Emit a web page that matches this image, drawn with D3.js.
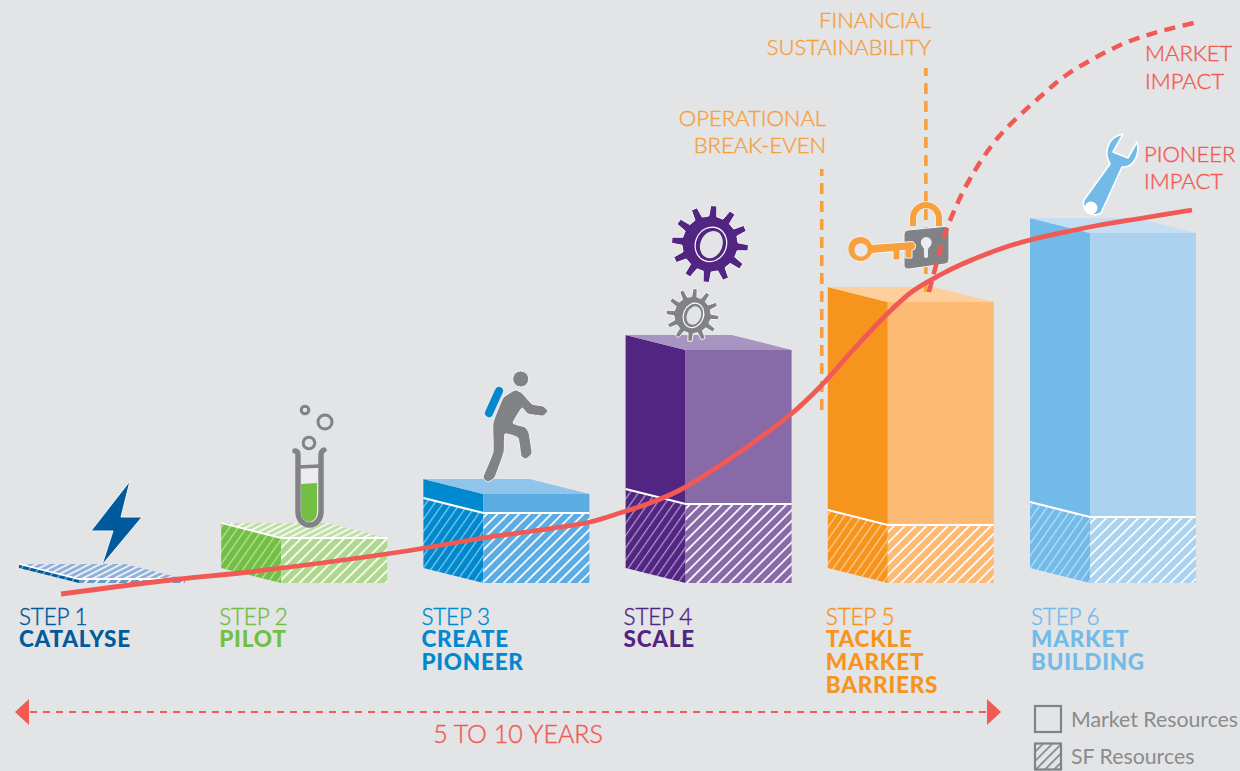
<!DOCTYPE html>
<html>
<head>
<meta charset="utf-8">
<script src="https://cdn.jsdelivr.net/npm/d3@7"></script>
<style>
  html, body { margin: 0; padding: 0; background: #e3e4e6; }
  svg { display: block; }
  text { font-family: Lato, "Open Sans", sans-serif; }
</style>
</head>
<body>
<svg id="chart" width="1240" height="771"></svg>
<script>
// Scaling up in six steps: resources per step, and impact over the steps.
const stepNames = [["CATALYSE"], ["PILOT"], ["CREATE", "PIONEER"], ["SCALE"], ["TACKLE", "MARKET", "BARRIERS"], ["MARKET", "BUILDING"]];
const sfResources = [4, 45, 70, 79, 58, 66];
const marketResources = [0, 0, 19, 154, 223, 284];

const leftFaceColors = ["#005a9c", "#72bf44", "#0089cf", "#522582", "#f7941e", "#72bbe8"];
const rightFaceColors = ["#6c97c9", "#aed88d", "#5aace2", "#886aa8", "#fdba74", "#abd3f0"];
const topFaceColors = ["#8fb0d8", "#bfdfa6", "#90c4ea", "#a794c1", "#fecf9c", "#c5dff2"];
const labelColors = ["#005a9c", "#72bf44", "#0089cf", "#522582", "#f7941e", "#72bbe8"];

const pioneerSteps = [0.208, 0.796, 1.093, 1.884, 2.295, 2.542, 2.824, 2.972, 3.121, 3.269, 3.432, 3.600, 3.813, 3.961, 4.125, 4.293, 4.421, 4.555, 4.654, 4.852, 5.0, 5.198, 5.346, 5.559, 5.801];
const pioneerImpact = [-11, 4, 10, 31, 45, 52, 61, 70, 80, 93, 113, 136, 168, 196, 233, 269, 292, 308, 318, 334, 343, 352, 358, 365, 373];
const marketSteps = [4.50, 4.52, 4.57, 4.62, 4.70, 4.84, 5.06, 5.18, 5.32, 5.47, 5.63, 5.81];
const marketImpact = [291, 306, 343, 370, 403, 445, 488, 508, 525, 540, 551, 560];

const milestoneSteps = [3.97, 4.485];
const milestoneFrom = [173, 291];
const milestoneTo = [414, 515];
const milestoneLabels = [["OPERATIONAL", "BREAK-EVEN"], ["FINANCIAL", "SUSTAINABILITY"]];
const legendLabels = ["Market Resources", "SF Resources"];

const RED = "#f15a54", ORANGE = "#f7a03c", GREY = "#808285", HALO = "#f4f4f4", PAPER = "#e3e4e6";
const svg = d3.select("#chart");
const defs = svg.append("defs");

const x = d3.scaleLinear().domain([0, 5]).range([19, 1030]);
const y = d3.scaleLinear().domain([0, 583]).range([583, 0]);

const leftWidth = 60, rightWidth = 106, depth = 15, topShift = 46;

// Diagonal stripe fills, one set for each step colour
function stripes(id, base, angle, gap, width, opacity, ink) {
  const p = defs.append("pattern").attr("id", id)
    .attr("patternUnits", "userSpaceOnUse")
    .attr("width", gap).attr("height", gap)
    .attr("patternTransform", `rotate(${angle})`);
  p.append("rect").attr("width", gap).attr("height", gap).attr("fill", base);
  p.append("rect").attr("width", width).attr("height", gap)
    .attr("fill", ink || "#fff").attr("opacity", opacity);
}
leftFaceColors.forEach((c, i) => {
  stripes(`left${i}`, c, 35, 7, 1.2, 0.55);
  stripes(`right${i}`, rightFaceColors[i], 45, 7.6, 1.8, 0.95);
  stripes(`top${i}`, topFaceColors[i], 63, 4.8, 1.7, 0.9);
});
stripes("legendHatch", PAPER, 45, 6.5, 1.6, 1, GREY);

const poly = pts => d3.line()(pts) + "Z";

// Blocks
const bars = svg.append("g").selectAll("g").data(sfResources).join("g");
bars.each(function (sf, i) {
  const g = d3.select(this);
  const x0 = x(i), x1 = x0 + leftWidth, x2 = x1 + rightWidth;
  const base = y(0), mid = y(sf), top = y(sf + marketResources[i]);
  const hasMarket = marketResources[i] > 0;

  g.append("path").attr("d", poly([[x0, mid - depth], [x1, mid], [x1, base], [x0, base - depth]]))
    .attr("fill", `url(#left${i})`);
  g.append("path").attr("d", poly([[x1, mid], [x2, mid], [x2, base], [x1, base]]))
    .attr("fill", `url(#right${i})`);

  if (hasMarket) {
    g.append("path").attr("d", poly([[x0, top - depth], [x1, top], [x1, mid], [x0, mid - depth]]))
      .attr("fill", leftFaceColors[i]);
    g.append("path").attr("d", poly([[x1, top], [x2, top], [x2, mid], [x1, mid]]))
      .attr("fill", rightFaceColors[i]);
  }
  g.append("path")
    .attr("d", poly([[x0, top - depth], [x0 + topShift + leftWidth, top - depth], [x2, top], [x1, top]]))
    .attr("fill", hasMarket ? topFaceColors[i] : `url(#top${i})`);

  g.append("path").attr("d", d3.line()([[x0, mid - depth], [x1, mid], [x2, mid]]))
    .attr("fill", "none").attr("stroke", "#fff").attr("stroke-width", hasMarket ? 2.2 : 1.8);
});

// Light captions get a hairline outline to carry their weight
const lightText = sel => sel.attr("font-weight", 300).attr("stroke-width", 0.4)
  .attr("stroke", function () { return d3.select(this).attr("fill") || d3.select(this.parentNode).attr("fill"); });

// Step captions
const nudge = i => (i === 5 ? 1 : i === 0 ? 0 : -2);
const caption = svg.append("g").selectAll("g").data(stepNames).join("g")
  .attr("transform", (d, i) => `translate(${x(i) + nudge(i)},0)`)
  .attr("fill", (d, i) => labelColors[i]);
caption.append("text").attr("y", 625).attr("font-size", 22.5).attr("letter-spacing", -0.2)
  .text((d, i) => `STEP ${i + 1}`).call(lightText);
caption.each(function (lines) {
  d3.select(this).selectAll("text.name").data(lines).join("text").attr("class", "name")
    .attr("y", (d, k) => 646.5 + k * 23).attr("font-size", 22.5).attr("font-weight", 900)
    .attr("letter-spacing", 0.75).text(d => d);
});

// Milestone guides
milestoneSteps.forEach((s, i) => {
  svg.append("line").attr("x1", x(s)).attr("x2", x(s))
    .attr("y1", y(milestoneFrom[i])).attr("y2", y(milestoneTo[i]))
    .attr("stroke", ORANGE).attr("stroke-width", 3.6).attr("stroke-dasharray", "11 7");
});
[[826, [126, 153]], [931, [28, 54.5]]].forEach(([right, rows], i) => {
  milestoneLabels[i].forEach((t, k) => svg.append("text")
    .attr("x", right).attr("y", rows[k]).attr("text-anchor", "end")
    .attr("font-size", 22).attr("fill", ORANGE).text(t).call(lightText));
});

// Icons
const icons = svg.append("g");

// Lightning bolt
icons.append("path").attr("d", "M130 481L91 531L113 531L102 565L142 517L121 517Z")
  .attr("fill", "#005a9c").attr("stroke", HALO).attr("stroke-width", 1);

// Test tube and bubbles
const tube = icons.append("g").attr("fill", "none").attr("stroke-linecap", "round");
tube.append("path").attr("d", "M297.5 467V512A11.5 13 0 0 0 320.5 512V467Z").attr("fill", "#ececee").attr("stroke", "none");
tube.append("path").attr("d", "M301 484L317 483V512A8 10 0 0 1 301 512Z").attr("fill", "#72bf44").attr("stroke", "none");
tube.append("path").attr("d", "M295 451Q298 451 298 455V512A11.5 13 0 0 0 321 512V455Q321 451 324 450")
  .attr("stroke", GREY).attr("stroke-width", 5.4);
tube.append("path").attr("d", "M298 467L321 466").attr("stroke", GREY).attr("stroke-width", 3.5);
[[309, 443, 5.8, 3], [325, 422, 7, 3], [305, 410, 3.8, 3]].forEach(([cx, cy, r, w]) =>
  tube.append("circle").attr("cx", cx).attr("cy", cy).attr("r", r).attr("stroke", GREY).attr("stroke-width", w));

// Walker with backpack
const walker = icons.append("g").attr("stroke-linejoin", "round");
const walkerOutline = [[515, 390], [522, 393], [532, 404], [543, 406], [548, 411], [543, 416], [528, 414], [522, 408],
  [513, 423], [525, 427], [529, 433], [532, 453], [526, 459], [521, 456], [518, 438], [505, 434], [504, 452], [495, 477],
  [488, 482], [483, 477], [493, 452], [493, 423], [503, 398]];
walker.append("path").attr("d", d3.line().curve(d3.curveCardinalClosed.tension(0.6))(walkerOutline))
  .attr("fill", GREY).attr("stroke", HALO).attr("stroke-width", 1);
walker.append("circle").attr("cx", 520.7).attr("cy", 379).attr("r", 8).attr("fill", GREY).attr("stroke", HALO).attr("stroke-width", 1);
walker.append("path").attr("d", "M499 391L489 413").attr("stroke", "#0089cf").attr("stroke-width", 8).attr("stroke-linecap", "round");

// Cogs: teeth are spaced evenly around the body
function cog(cx, cy, outer, body, teeth, fill, ringX, ringY, holeX, holeY) {
  const pts = [];
  const step = 2 * Math.PI / teeth;
  for (let k = 0; k < teeth; k++) {
    const a = k * step + 0.1;
    [[-0.27, body], [-0.15, outer], [0.15, outer], [0.27, body]].forEach(([f, r]) =>
      pts.push([cx + r * Math.cos(a + f * step), cy + r * Math.sin(a + f * step)]));
  }
  const g = icons.append("g");
  g.append("path").attr("d", d3.line().curve(d3.curveLinearClosed)(pts))
    .attr("fill", fill).attr("stroke", HALO).attr("stroke-width", 1).attr("stroke-linejoin", "round");
  g.append("ellipse").attr("cx", cx + 1).attr("cy", cy).attr("rx", ringX).attr("ry", ringY)
    .attr("transform", `rotate(22 ${cx} ${cy})`).attr("fill", "none").attr("stroke", "#fff").attr("stroke-width", 1.2);
  g.append("ellipse").attr("cx", cx + 1.5).attr("cy", cy).attr("rx", holeX).attr("ry", holeY)
    .attr("transform", `rotate(22 ${cx} ${cy})`).attr("fill", PAPER);
}
cog(710, 244, 38.5, 28, 12, "#522582", 15.5, 17.5, 11, 14);
cog(692.5, 315, 26.5, 18.5, 12, GREY, 10, 12.5, 7, 9.5);

// Padlock and key
const lock = icons.append("g");
lock.append("path").attr("d", "M913 226V218A13 13 0 0 1 939 218V226").attr("fill", "none")
  .attr("stroke", HALO).attr("stroke-width", 7.5);
lock.append("path").attr("d", "M913 226V218A13 13 0 0 1 939 218V226").attr("fill", "none")
  .attr("stroke", ORANGE).attr("stroke-width", 6);
lock.append("path").attr("d", "M908 230L944 226.5Q949 226 949 231V259Q949 263.5 945 264L909 269Q904 269.5 904 265V234Q904 230.5 908 230Z")
  .attr("fill", GREY).attr("stroke", HALO).attr("stroke-width", 1);
lock.append("path").attr("d", "M924 249L922.5 246.5A5.5 5.5 0 1 1 930 246.5L928 249V257Q926 259 924 257Z").attr("fill", "#ececee");
const key = icons.append("g");
const keyShape = "M872 244.5L913 241.5Q917 245 915 249L912 250V258H905V250.5H900V260H893V251.5L872 253.5A12.5 12.5 0 1 1 872 244.5Z";
key.append("path").attr("d", keyShape).attr("fill", ORANGE).attr("stroke", HALO).attr("stroke-width", 1);
key.append("circle").attr("cx", 861).attr("cy", 250).attr("r", 6.7).attr("fill", "#e8e8ea");

// Wrench
icons.append("path")
  .attr("d", "M1123 134C1108 137 1103 152 1110 164L1084 200A11.5 11.5 0 0 0 1101 213L1122 167C1135 168 1140 152 1137 142L1128 158L1113 152Z")
  .attr("fill", "#72bbe8").attr("stroke", "#fff").attr("stroke-width", 1.6).attr("stroke-linejoin", "round");
icons.append("circle").attr("cx", 1091).attr("cy", 208).attr("r", 6.5).attr("fill", "#fff");

// Impact curves
const impactLine = d3.line().x(d => x(d[0])).y(d => y(d[1])).curve(d3.curveCatmullRom.alpha(0.5));
svg.append("path").attr("d", impactLine(d3.zip(marketSteps, marketImpact)))
  .attr("fill", "none").attr("stroke", RED).attr("stroke-width", 4.5).attr("stroke-dasharray", "11 7.6");
svg.append("path").attr("d", impactLine(d3.zip(pioneerSteps, pioneerImpact)))
  .attr("fill", "none").attr("stroke", RED).attr("stroke-width", 4.8);

[["MARKET", 1145, 61], ["IMPACT", 1145, 88.5], ["PIONEER", 1144, 162], ["IMPACT", 1144, 189]].forEach(([t, tx, ty]) =>
  svg.append("text").attr("x", tx).attr("y", ty).attr("font-size", 22)
    .attr("fill", RED).text(t).call(lightText));

// Duration arrow
svg.append("line").attr("x1", 30).attr("x2", 987).attr("y1", 712).attr("y2", 712)
  .attr("stroke", RED).attr("stroke-width", 2.2).attr("stroke-dasharray", "7 6");
svg.append("path").attr("d", "M15 712L29 699V725Z").attr("fill", RED);
svg.append("path").attr("d", "M1001 712L987 699V725Z").attr("fill", RED);
svg.append("text").attr("x", 518).attr("y", 743).attr("text-anchor", "middle")
  .attr("font-size", 25).attr("fill", RED).text("5 TO 10 YEARS").call(lightText);

// Legend
const legend = svg.append("g").selectAll("g").data(legendLabels).join("g")
  .attr("transform", (d, i) => `translate(1034,${705 + i * 37.5})`);
legend.append("rect").attr("x", 1).attr("y", 1).attr("width", 26).attr("height", 26)
  .attr("fill", (d, i) => i ? "url(#legendHatch)" : "none")
  .attr("stroke", GREY).attr("stroke-width", 2.2);
legend.append("text").attr("x", 37).attr("y", (d, i) => 22 - i).attr("font-size", 21.3).attr("font-weight", 400)
  .attr("fill", "#8a8b8d").text(d => d);
</script>
</body>
</html>
